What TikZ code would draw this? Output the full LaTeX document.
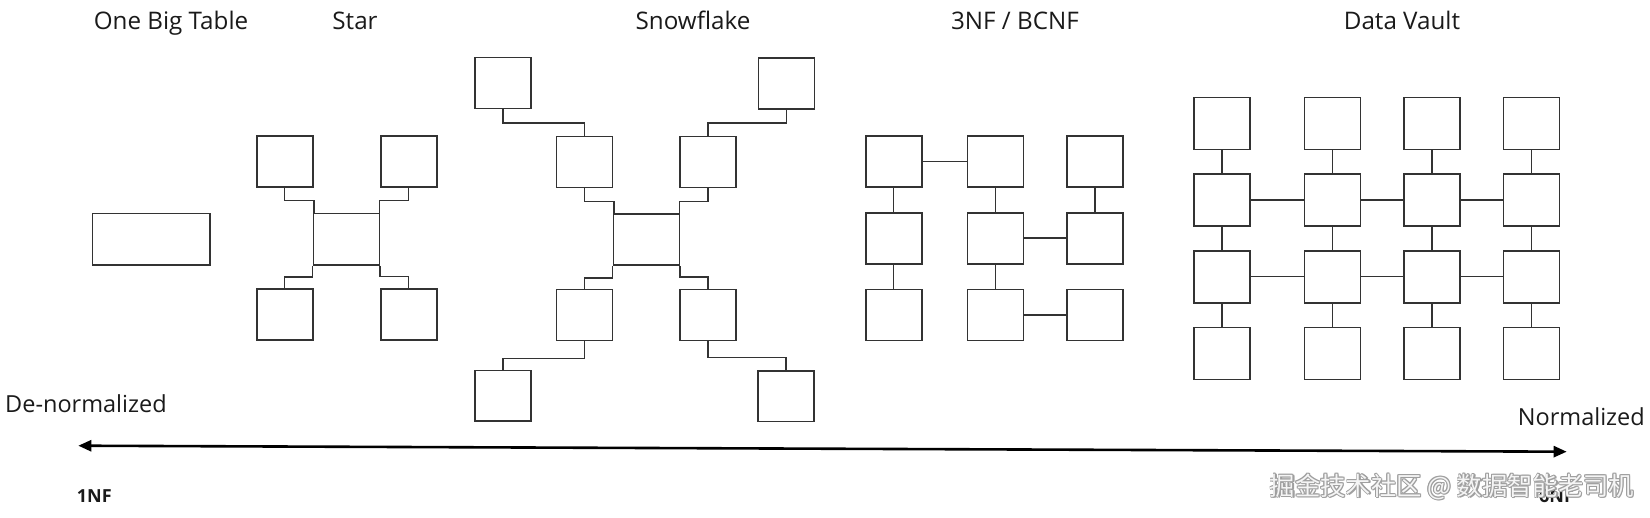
\documentclass[tikz,border=0pt]{standalone}
\usepackage{fontspec}
\setmainfont{Open Sans}
\newfontfamily\cjkfont{Noto Sans CJK SC}
\usetikzlibrary{arrows.meta,calc}
\definecolor{linec}{HTML}{333333}
\definecolor{textc}{HTML}{1A1A1A}
\begin{document}
\begin{tikzpicture}[x=1pt,y=-1pt,
  tbl/.style={draw=linec, line width=1.6pt, fill=white, inner sep=0pt, minimum width=56pt, minimum height=51pt},
  wide/.style={tbl, minimum width=66pt, minimum height=51.5pt},
  link/.style={draw=linec, line width=1.5pt},
  title/.style={font=\fontsize{24.2}{28}\selectfont, text=textc, anchor=base, inner sep=0pt},
  side/.style={font=\fontsize{23.5}{28}\selectfont, text=textc, inner sep=0pt},
  nf/.style={font=\fontsize{18}{21}\selectfont\bfseries, text=textc, inner sep=0pt, anchor=base west},
  axis/.style={line width=2.6pt, black, {Triangle[length=13pt,width=11pt]}-{Triangle[length=13pt,width=11pt]}},
  wmshadow/.style={font=\cjkfont\fontsize{25.3}{30}\selectfont, text=gray!75, inner sep=0pt},
  wmfill/.style={font=\cjkfont\fontsize{25.3}{30}\selectfont, text=gray!8, inner sep=0pt}
]
\useasboundingbox (0,0) rectangle (1650,517);

% titles
\node[title] (tOBT) at (171,29.5) {One Big Table};
\node[title] (tStar) at (355,29.5) {Star};
\node[title] (tSnow) at (693,29.5) {Snowflake};
\node[title] (t3NF) at (1015,29.5) {3NF / BCNF};
\node[title] (tDV) at (1402,29.5) {Data Vault};

% One big table
\node[tbl, minimum width=117.3pt, minimum height=51.7pt] (obt) at (151.3,239.2) {};

% Star
\node[tbl] (sTL) at (284.7,161.3) {};
\node[tbl] (sTR) at (408.7,161.3) {};
\node[wide] (sC) at (346.3,239.2) {};
\node[tbl] (sBL) at (284.7,314.5) {};
\node[tbl] (sBR) at (408.7,314.5) {};
\draw[link] (sTL.south) -- ++(0,13) -| ([xshift=1.5pt]sC.north west);
\draw[link] (sTR.south) -- ++(0,13) -| ([xshift=-0.5pt]sC.north east);
\draw[link] (sC.south west) -- ++(0,11) -| (sBL.north);
\draw[link] (sC.south east) -- ++(0,10.5) -| (sBR.north);

% Snowflake
\node[tbl] (fOTL) at (503,83) {};
\node[tbl] (fOTR) at (786.3,83.5) {};
\node[tbl] (fITL) at (584.5,162) {};
\node[tbl] (fITR) at (708.2,162) {};
\node[wide] (fC) at (646.3,239.5) {};
\node[tbl] (fIBL) at (584.5,314.8) {};
\node[tbl] (fIBR) at (708.2,314.8) {};
\node[tbl, minimum height=50.5pt] (fOBL) at (503,395.9) {};
\node[tbl, minimum height=50.5pt] (fOBR) at (786.2,396.3) {};
\draw[link] (fOTL.south) -- ++(0,13.6) -| (fITL.north);
\draw[link] (fOTR.south) -- ++(0,13.3) -| (fITR.north);
\draw[link] (fITL.south) -- ++(0,13.4) -| ([xshift=1.4pt]fC.north west);
\draw[link] (fITR.south) -- ++(0,13.4) -| ([xshift=-0.6pt]fC.north east);
\draw[link] (fC.south west) -- ++(0,12) -| (fIBL.north);
\draw[link] (fC.south east) -- ++(0,10.7) -| (fIBR.north);
\draw[link] (fIBL.south) -- ++(0,17.4) -| (fOBL.north);
\draw[link] (fIBR.south) -- ++(0,16.4) -| (fOBR.north);

% 3NF / BCNF
\foreach \c/\x in {1/893.7,2/995.5,3/1095}{
  \foreach \r/\y in {1/161.7,2/238.2,3/314.8}{
    \node[tbl] (n\r\c) at (\x,\y) {};
  }
}
\draw[link] (n11) -- (n12);
\draw[link] (n11) -- (n21);
\draw[link] (n21) -- (n31);
\draw[link] (n12) -- (n22);
\draw[link] (n22) -- (n32);
\draw[link] (n13) -- (n23);
\draw[link] (n22) -- (n23);
\draw[link] (n32) -- (n33);

% Data Vault
\foreach \c/\x in {1/1222.2,2/1332.5,3/1432.2,4/1531.5}{
  \foreach \r/\y in {1/123.5,2/200.2,3/276.7,4/353.3}{
    \node[tbl, minimum height=52pt] (v\r\c) at (\x,\y) {};
  }
}
\foreach \c in {1,2,3,4}{
  \draw[link] (v1\c) -- (v2\c);
  \draw[link] (v2\c) -- (v3\c);
  \draw[link] (v3\c) -- (v4\c);
}
\foreach \a/\b in {1/2,2/3,3/4}{
  \draw[link] (v2\a) -- (v2\b);
  \draw[link] (v3\a) -- (v3\b);
}

% axis
\coordinate (aL) at (78.3,445.7);
\coordinate (aR) at (1566.7,451.7);
\draw[axis] (aL) -- (aR);
\node[side, anchor=base west] (lDe) at (5,412) {De-normalized};
\node[side, anchor=base east] (lNo) at (1645,425) {Normalized};
\node[nf] (l1NF) at (76.7,502.3) {1NF};
\node[nf] (l6NF) at (1539,502.3) {6NF};

% watermark
\foreach \dx/\dy [count=\i] in {1.2/1.2,1.2/0,0/1.2,-0.8/-0.8,0.8/-0.8,-0.8/0.8,-0.8/0,0/-0.8}{
  \node[wmshadow] (wms\i) at (1452+\dx,486.5+\dy) {掘金技术社区 @ 数据智能老司机};
}
\node[wmfill] (wm) at (1452,486.5) {掘金技术社区 @ 数据智能老司机};
\end{tikzpicture}
\end{document}
